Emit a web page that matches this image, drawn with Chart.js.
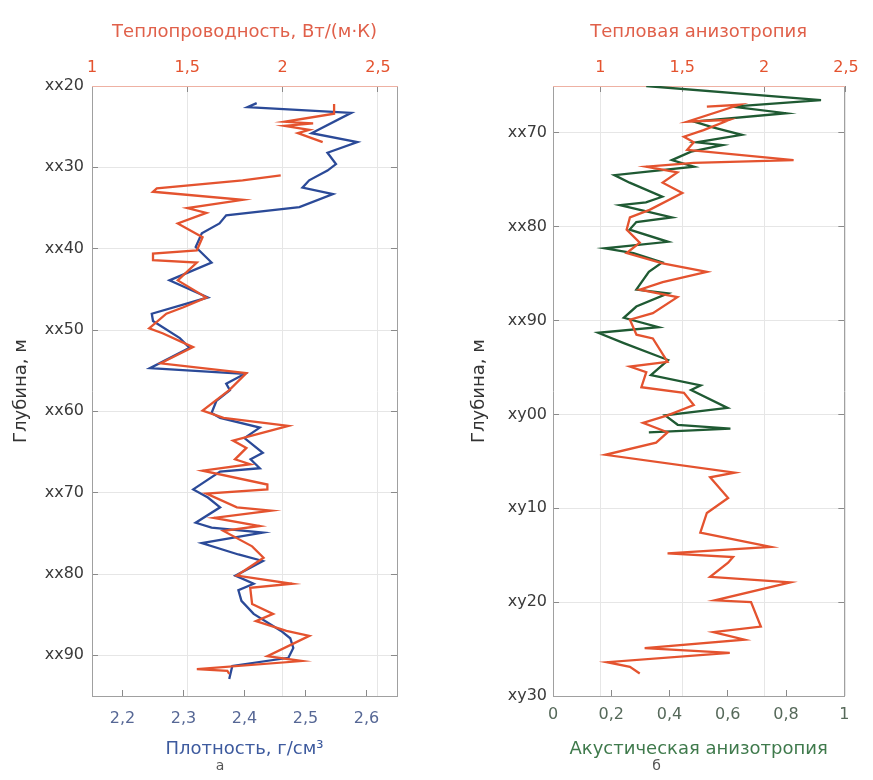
<!DOCTYPE html>
<html>
<head>
<meta charset="utf-8">
<script src="https://cdn.jsdelivr.net/npm/chart.js@4.4.1/dist/chart.umd.min.js"></script>
<style>
    body { margin: 0; background: #fff; }
    #wrap { position: relative; width: 873px; height: 780px; }
    #chartA { position: absolute; left: 0; top: 0; }
    #chartB { position: absolute; left: 440px; top: 0; }
</style>
</head>
<body>
<div id="wrap">
    <canvas id="chartA" width="440" height="780"></canvas>
    <canvas id="chartB" width="433" height="780"></canvas>
</div>
<script>
// panel a: density (bottom axis) and thermal conductivity (top axis)
var densityDepth = [22.1, 22.6, 23.3, 25.8, 26.9, 28.2, 29.6, 30.4, 31.6, 32.5, 33.3, 34.9, 35.9, 36.9, 38.1,
    39.8, 41.7, 43.9, 46.0, 48.0, 48.9, 51.0, 52.2, 54.7, 55.4, 56.6, 57.4, 58.7, 60.2, 60.8, 62.0, 63.3, 65.1,
    65.9, 67.0, 67.4, 69.6, 70.6, 71.8, 73.7, 74.3, 74.9, 76.2, 77.6, 78.4, 80.2, 81.2, 82.0, 83.3, 84.9, 87.0,
    87.9, 89.1, 90.3, 91.3, 92.9];
var density = [2.42, 2.405, 2.575, 2.51, 2.585, 2.536, 2.55, 2.536, 2.506, 2.495, 2.545, 2.49, 2.37, 2.359, 2.33,
    2.32, 2.346, 2.277, 2.34, 2.248, 2.25, 2.294, 2.31, 2.245, 2.40, 2.37, 2.376, 2.354, 2.346, 2.36, 2.425, 2.40, 2.43,
    2.41, 2.425, 2.36, 2.316, 2.34, 2.36, 2.32, 2.346, 2.43, 2.33, 2.39, 2.43, 2.385, 2.415, 2.39, 2.395, 2.415, 2.46,
    2.475, 2.48, 2.472, 2.38, 2.375];
var condDepth = [22.2, 23.4, 24.4, 24.6, 24.9, 25.4, 25.8, 26.9, 28.5, 31.0, 31.6, 32.6, 33.0, 34.0, 35.0,
    35.6, 36.9, 38.6, 40.2, 40.6, 41.4, 41.7, 43.9, 46.0, 47.2, 48.0, 49.8, 50.4, 52.1, 54.1, 55.3, 57.4, 59.9,
    60.8, 61.8, 63.6, 64.5, 65.9, 66.5, 67.3, 69.0, 69.6, 70.1, 71.8, 72.2, 73.1, 74.1, 74.7, 76.6, 78.0, 80.2,
    81.2, 81.7, 83.7, 84.9, 85.8, 87.0, 87.6, 90.1, 90.7, 91.7, 91.9, 92.3];
var conductivity = [2.27, 2.27, 2.01, 2.16, 2.01, 2.14, 2.08, 2.21, null, 1.99, 1.79, 1.34, 1.32, 1.79, 1.50,
    1.60, 1.45, 1.58, 1.55, 1.32, 1.32, 1.55, 1.45, 1.60, 1.48, 1.39, 1.30, 1.37, 1.53, 1.36, 1.81, 1.72, 1.58,
    1.69, 2.03, 1.74, 1.81, 1.75, 1.83, 1.58, 1.92, 1.92, 1.60, 1.76, 1.94, 1.64, 1.88, 1.69, 1.84, 1.90, 1.76,
    2.05, 1.83, 1.84, 1.95, 1.86, 2.02, 2.14, 1.92, 2.10, 1.55, 1.71, 1.72];
var depthTicksA = [20, 30, 40, 50, 60, 70, 80, 90];
var depthLabelsA = ['xx20', 'xx30', 'xx40', 'xx50', 'xx60', 'xx70', 'xx80', 'xx90'];
var densityTicks = [2.2, 2.3, 2.4, 2.5, 2.6];
var condTicks = [1, 1.5, 2, 2.5];

// panel b: acoustic anisotropy (bottom axis) and thermal anisotropy (top axis)
var acousticDepth = [65.0, 66.5, 67.2, 67.9, 68.8, 69.4, 70.2, 71.0, 71.3, 72.0, 72.9, 73.6, 74.5, 75.3, 76.8,
    77.4, 77.7, 79.0, 79.5, 80.3, 81.6, 82.3, 82.8, 83.8, 84.8, 86.7, 87.1, 88.5, 89.7, 90.7, 91.3, 92.4, 94.2,
    95.8, 96.9, 97.4, 99.3, 100.1, 101.1, 101.5, 101.9];
var acoustic = [0.32, 0.92, 0.615, 0.80, 0.484, 0.549, 0.648, 0.493, 0.582, 0.474, 0.408, 0.484, 0.211, 0.263, 0.375,
    0.319, 0.23, 0.408, 0.286, 0.263, 0.395, 0.178, 0.276, 0.375, 0.329, 0.286, 0.395, 0.286, 0.243, 0.362, 0.155,
    0.243, 0.395, 0.336, 0.507, 0.474, 0.599, 0.385, 0.428, 0.609, 0.329];
var thermDepth = [67.2, 67.0, 68.8, 68.6, 69.7, 70.4, 71.0, 71.8, 72.9, 73.2, 73.6, 74.2, 75.3, 76.4, 78.2,
    79.0, 80.3, 81.7, 82.8, 83.9, 84.8, 85.9, 86.7, 87.5, 89.2, 89.9, 91.5, 91.9, 94.4, 94.9, 95.5, 97.1, 97.7,
    99.0, 100.1, 100.9, 101.9, 103.0, 104.3, 106.2, 106.7, 108.9, 110.5, 112.6, 114.1, 114.8, 115.2, 115.8, 117.3,
    117.9, 119.8, 120.0, 122.6, 123.2, 124.0, 124.9, 125.4, 126.4, 126.9, 127.6];
var thermAniso = [1.65, 1.85, 1.53, 1.79, 1.63, 1.51, 1.57, 1.53, 2.18, 1.57, 1.28, 1.47, 1.38, 1.50, 1.30,
    1.18, 1.16, 1.24, 1.16, 1.38, 1.65, 1.38, 1.24, 1.47, 1.32, 1.18, 1.22, 1.32, 1.41, 1.18, 1.28, 1.25, 1.51,
    1.57, 1.41, 1.26, 1.41, 1.34, 1.03, 1.82, 1.67, 1.78, 1.65, 1.61, 2.04, 1.41, 1.81, 1.78, 1.67, 2.16, 1.70,
    1.92, 1.98, 1.69, 1.88, 1.27, 1.79, 1.04, 1.18, 1.24];
var depthTicksB = [70, 80, 90, 100, 110, 120, 130];
var depthLabelsB = ['xx70', 'xx80', 'xx90', 'xy00', 'xy10', 'xy20', 'xy30'];
var acousticTicks = [0, 0.2, 0.4, 0.6, 0.8, 1];
var thermTicks = [1, 1.5, 2, 2.5];

var FONT = "'DejaVu Sans', sans-serif";
var RED = '#e4532f';
var GRID = '#e6e6e6';
var TICK = '#8a8a8a';
var AXIS = '#a0a0a0';

function toPoints(depths, values) {
    return depths.map(function (d, i) { return { x: values[i], y: d }; });
}
function commaLabel(v) {
    return String(v).replace('.', ',');
}
function fixedTicks(list) {
    return function (scale) {
        scale.ticks = list.map(function (v) { return { value: v }; });
    };
}
function fixedSize(size) {
    return function (scale) {
        if (scale.isHorizontal()) scale.height = size;
        else scale.width = size;
    };
}
function curve(points, color, xAxis) {
    return {
        data: points, xAxisID: xAxis, yAxisID: 'y', showLine: true,
        borderColor: color, backgroundColor: color, borderWidth: 2.3,
        pointRadius: 0, tension: 0, spanGaps: false
    };
}

function panelConfig(p) {
    return {
        type: 'scatter',
        data: { datasets: p.datasets },
        options: {
            responsive: false,
            animation: false,
            layout: { padding: 0 },
            plugins: {
                legend: { display: false },
                tooltip: { enabled: false },
                title: {
                    display: true, position: 'bottom', text: p.letter, color: '#555',
                    font: { family: FONT, size: 14, weight: 'normal' }, padding: { top: 0, bottom: 5 }
                }
            },
            scales: {
                y: {
                    type: 'linear', position: 'left', reverse: true, min: p.yMin, max: p.yMax,
                    afterBuildTicks: fixedTicks(p.depthTicks),
                    afterFit: fixedSize(p.leftW),
                    ticks: {
                        autoSkip: false, padding: p.yPad, color: '#3a3a3a', font: { family: FONT, size: 16 },
                        callback: function (v) { return p.depthLabels[p.depthTicks.indexOf(v)]; }
                    },
                    grid: { color: GRID, tickColor: TICK, tickLength: -6 },
                    border: { color: AXIS },
                    title: {
                        display: true, text: 'Глубина, м', color: '#333',
                        font: { family: FONT, size: 18 }, padding: { top: p.yTitlePad, bottom: 0 }
                    }
                },
                y2: {
                    type: 'linear', position: 'right', reverse: true, min: p.yMin, max: p.yMax,
                    afterBuildTicks: fixedTicks(p.depthTicks),
                    afterFit: fixedSize(p.rightW),
                    ticks: { display: false },
                    grid: { drawOnChartArea: false, tickColor: TICK, tickLength: -6 },
                    border: { color: AXIS }
                },
                x: {
                    type: 'linear', position: 'bottom', min: p.xMin, max: p.xMax,
                    afterBuildTicks: fixedTicks(p.xTicks),
                    afterFit: fixedSize(p.bottomH),
                    ticks: {
                        autoSkip: false, maxRotation: 0, padding: p.xPad, color: p.xTickColor,
                        font: { family: FONT, size: 16 }, callback: commaLabel
                    },
                    grid: { drawOnChartArea: false, tickColor: TICK, tickLength: -6 },
                    border: { color: AXIS },
                    title: {
                        display: true, text: p.xTitle, color: p.xTitleColor,
                        font: { family: FONT, size: 18, lineHeight: 1 }, padding: { top: 0, bottom: 0 }
                    }
                },
                x2: {
                    type: 'linear', position: 'top', min: p.x2Min, max: p.x2Max,
                    afterBuildTicks: fixedTicks(p.x2Ticks),
                    afterFit: fixedSize(86),
                    ticks: {
                        autoSkip: false, maxRotation: 0, padding: 14.4, color: RED,
                        font: { family: FONT, size: 16 }, callback: commaLabel
                    },
                    grid: { color: GRID, tickColor: TICK, tickLength: -6 },
                    border: { color: '#eeb1a3' },
                    title: {
                        display: true, text: p.x2Title, color: '#e0604a',
                        font: { family: FONT, size: 18 }, padding: { top: 22, bottom: 0 }
                    }
                }
            }
        }
    };
}

var chartA = new Chart(document.getElementById('chartA'), panelConfig({
    datasets: [
        curve(toPoints(condDepth, conductivity), RED, 'x2'),
        curve(toPoints(densityDepth, density), '#2b4a98', 'x')
    ],
    letter: 'а',
    yMin: 20, yMax: 95, depthTicks: depthTicksA, depthLabels: depthLabelsA,
    leftW: 92, rightW: 43, bottomH: 62.2, yPad: 14, yTitlePad: 11, xPad: 19.4,
    xMin: 2.15, xMax: 2.65, xTicks: densityTicks, xTickColor: '#566795',
    xTitle: 'Плотность, г/см³', xTitleColor: '#3d5a9e',
    x2Min: 1, x2Max: 2.6, x2Ticks: condTicks, x2Title: 'Теплопроводность, Вт/(м·К)'
}));

var chartB = new Chart(document.getElementById('chartB'), panelConfig({
    datasets: [
        curve(toPoints(thermDepth, thermAniso), RED, 'x2'),
        curve(toPoints(acousticDepth, acoustic), '#1f5a33', 'x')
    ],
    letter: 'б',
    yMin: 65, yMax: 130, depthTicks: depthTicksB, depthLabels: depthLabelsB,
    leftW: 113, rightW: 16, bottomH: 62.2, yPad: 12, yTitlePad: 29, xPad: 15.4,
    xMin: 0, xMax: 1, xTicks: acousticTicks, xTickColor: '#56695a',
    xTitle: 'Акустическая анизотропия', xTitleColor: '#3f7a4c',
    x2Min: 0.71, x2Max: 2.49, x2Ticks: thermTicks, x2Title: 'Тепловая анизотропия'
}));
</script>
</body>
</html>
